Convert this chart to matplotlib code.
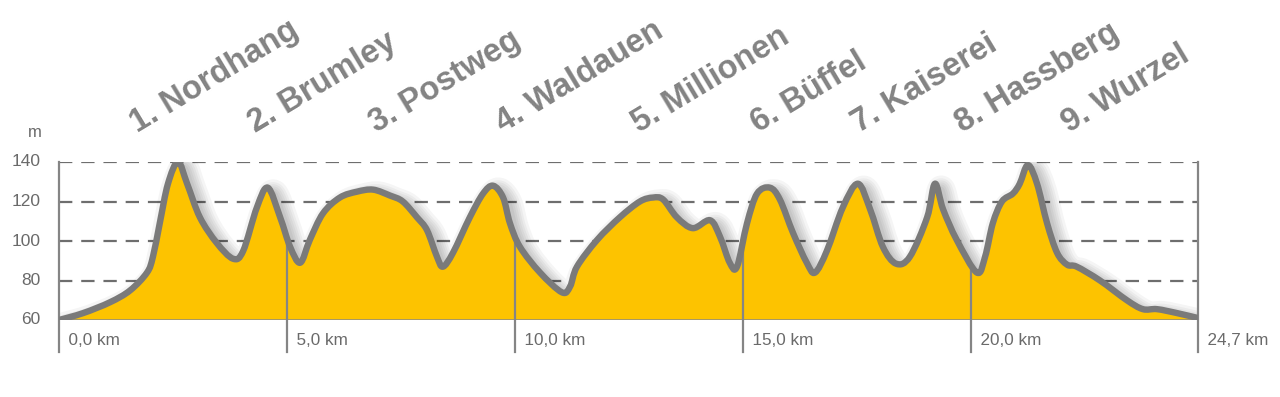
import numpy as np
import matplotlib
matplotlib.use("Agg")
import matplotlib.pyplot as plt
from matplotlib import transforms
from matplotlib.path import Path
from matplotlib.patches import PathPatch

plt.rcParams['font.family'] = ['Liberation Sans', 'DejaVu Sans']

# ---- data ----
distance_km = [0.00, 0.53, 1.12, 1.56, 1.93, 2.06, 2.21, 2.39, 2.61, 2.81, 3.09, 3.46,
               3.82, 4.04, 4.34, 4.58, 4.85, 5.07, 5.29, 5.50, 5.79, 6.16, 6.54, 6.89,
               7.26, 7.54, 7.85, 8.07, 8.29, 8.42, 8.64, 9.01, 9.30, 9.52, 9.74, 9.89,
               10.11, 10.55, 11.03, 11.21, 11.36, 11.80, 12.30, 12.74, 13.03, 13.25,
               13.55, 13.90, 14.28, 14.50, 14.71, 14.87, 15.09, 15.31, 15.59, 15.81,
               16.10, 16.40, 16.58, 16.84, 17.19, 17.52, 17.79, 18.07, 18.36, 18.66,
               19.04, 19.21, 19.39, 19.69, 20.13, 20.31, 20.48, 20.68, 20.92, 21.07,
               21.25, 21.45, 21.67, 21.89, 22.11, 22.32, 22.83, 23.42, 23.77, 24.08,
               24.52, 24.98]
elevation_m = [60, 63.5, 69, 75, 84, 92, 109, 129, 140, 129, 112, 99,
               91, 95, 117, 127, 112, 97, 89, 100.5, 114, 122, 125, 126,
               123, 120, 112, 105.5, 92, 87, 94, 112, 124, 128, 122, 109,
               97, 84, 74, 77, 87, 100.5, 112, 120, 122, 121,
               112, 106.5, 110.5, 102, 89, 87, 109, 124, 127, 121,
               104, 89, 84, 95, 117, 129, 116, 97, 88.5, 92,
               112, 129, 116, 100.5, 84, 92, 109, 120, 124, 129,
               138.5, 129, 109, 94, 88, 87, 80, 70, 65.5, 65.5,
               63.5, 61]

climb_names = ["1. Nordhang", "2. Brumley", "3. Postweg", "4. Waldauen", "5. Millionen",
               "6. Büffel", "7. Kaiserei", "8. Hassberg", "9. Wurzel"]
climb_label_km = [1.72, 4.30, 6.95, 9.73, 12.72, 15.33, 17.54, 19.82, 22.15]

km_ticks = [0, 5, 10, 15, 20, 24.98]
km_tick_labels = ["0,0 km", "5,0 km", "10,0 km", "15,0 km", "20,0 km", "24,7 km"]
elev_ticks = [60, 80, 100, 120, 140]

# ---- styles ----
FILL = "#FDC300"
LINE = "#7a7a7a"
GRID = "#6e6e6e"
TXT = "#6a6a6a"
LABEL = "#838383"

W, H = 1280, 397
fig = plt.figure(figsize=(W / 100, H / 100), dpi=100)
x0, x1, ytop, ybot = 59, 1198, 162, 320
ax = fig.add_axes([x0 / W, (H - ybot) / H, (x1 - x0) / W, (ybot - ytop) / H])
ax.set_xlim(0, km_ticks[-1])
ax.set_ylim(60, 140)
ax.axis('off')

x = np.array(distance_km)
y = np.array(elevation_m)


def smooth_path(xs, ys, close_to=None):
    """Catmull-Rom style Bezier path through the given points (rendering only)."""
    pts = np.column_stack([xs, ys])
    n = len(pts)
    verts = [pts[0]]
    codes = [Path.MOVETO]
    for i in range(n - 1):
        p0 = pts[i - 1] if i > 0 else pts[i]
        p1 = pts[i]
        p2 = pts[i + 1]
        p3 = pts[i + 2] if i + 2 < n else pts[i + 1]
        c1 = p1 + (p2 - p0) / 6.0
        c2 = p2 - (p3 - p1) / 6.0
        verts += [c1, c2, p2]
        codes += [Path.CURVE4] * 3
    if close_to is not None:
        verts += [(xs[-1], close_to), (xs[0], close_to), pts[0]]
        codes += [Path.LINETO, Path.LINETO, Path.CLOSEPOLY]
    return Path(np.array(verts), codes)


# dashed grid
for e in elev_ticks[1:]:
    ax.plot([0, km_ticks[-1]], [e, e], color=GRID, lw=1.6, dashes=(6, 4), zorder=1)

# shadow
off = transforms.offset_copy(ax.transData, fig, x=6, y=-5, units='dots')
for lw in [3, 6, 9, 12, 15, 19]:
    ax.add_patch(PathPatch(smooth_path(x, y), fill=False, edgecolor='black', lw=lw,
                           alpha=0.04, transform=off, joinstyle='round', capstyle='round',
                           zorder=2))
ax.plot([0, km_ticks[-1]], [60, 60], color='black', lw=7, alpha=0.05,
        transform=off, zorder=2)

# fill
ax.add_patch(PathPatch(smooth_path(x, y, close_to=60), facecolor=FILL, lw=0, zorder=3))
ax.plot([0, km_ticks[-1]], [60, 60], color="#8a8a8a", lw=1.8, zorder=4)

# vertical km lines
ybottom = 44
for i, k in enumerate(km_ticks):
    top = 140 if i in (0, len(km_ticks) - 1) else np.interp(k, x, y)
    ax.plot([k, k], [ybottom, top], color="#858585", lw=1.6, zorder=4, clip_on=False)
    ax.text(k, 49.8, "  " + km_tick_labels[i], ha='left', va='center', fontsize=12.3,
            color=TXT, clip_on=False)

# profile line
ax.add_patch(PathPatch(smooth_path(x, y), fill=False, edgecolor=LINE, lw=4.6,
                       joinstyle='round', capstyle='round', zorder=5))

# y labels
for e in elev_ticks:
    ax.text(-0.40, e, str(e), ha='right', va='center', fontsize=12.5, color=TXT, clip_on=False)
ax.text(-0.38, 154.8, "m", ha='right', va='center', fontsize=12, color=TXT, clip_on=False)

# climb labels
for name, k in zip(climb_names, climb_label_km):
    ax.text(k, 154.6, name, rotation=31, rotation_mode='anchor', ha='left', va='baseline',
            fontsize=23.5, fontweight='bold', color=LABEL, clip_on=False)

fig.savefig("out.png", dpi=100)
